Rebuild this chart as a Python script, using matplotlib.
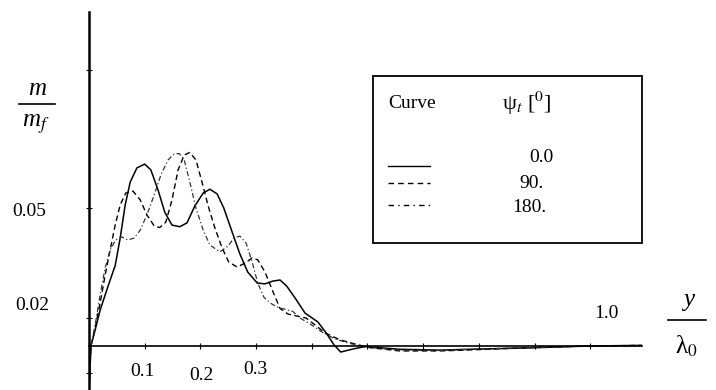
import numpy as np
import matplotlib.pyplot as plt
from matplotlib.lines import Line2D
from matplotlib.patches import Rectangle

plt.rcParams['font.family'] = ['Liberation Serif', 'DejaVu Serif']
plt.rcParams['mathtext.fontset'] = 'stix'

# curve data: y / lambda0 and m / m_f
x_solid = [0.0, 0.0036, 0.011, 0.02, 0.029, 0.038, 0.047, 0.056, 0.065, 0.074, 0.086,
           0.1, 0.111, 0.124, 0.136, 0.149, 0.163, 0.176, 0.19, 0.205, 0.217, 0.23,
           0.242, 0.257, 0.271, 0.285, 0.302, 0.316, 0.33, 0.343, 0.355, 0.37,
           0.388, 0.411, 0.426, 0.44, 0.452, 0.474, 0.496, 0.558, 0.63, 0.702,
           0.79, 0.9, 0.993]
y_solid = [-0.016, 0.0, 0.0057, 0.0129, 0.0184, 0.0238, 0.029, 0.039, 0.051, 0.0593,
           0.0644, 0.0658, 0.0637, 0.0564, 0.0484, 0.0437, 0.0431, 0.0445, 0.0506,
           0.0553, 0.0567, 0.055, 0.0499, 0.0412, 0.0332, 0.0267, 0.0227, 0.0224,
           0.0234, 0.0238, 0.0216, 0.0173, 0.0118, 0.0086, 0.0046, 0.0003, -0.0023,
           -0.0012, -0.0003, -0.0013, -0.0016, -0.0012, -0.0008, -0.0001, 0.0001]

x_dash = [0.0, 0.0036, 0.011, 0.02, 0.029, 0.038, 0.047, 0.056, 0.066, 0.079, 0.092,
          0.104, 0.117, 0.127, 0.138, 0.149, 0.16, 0.171, 0.181, 0.192, 0.203, 0.214,
          0.226, 0.239, 0.251, 0.266, 0.28, 0.293, 0.303, 0.316, 0.329, 0.343, 0.357,
          0.372, 0.39, 0.406, 0.424, 0.451, 0.478, 0.504, 0.558, 0.63, 0.702, 0.79,
          0.9, 0.993]
y_dash = [-0.016, 0.0, 0.0064, 0.0155, 0.0256, 0.0347, 0.0437, 0.051, 0.0553, 0.056,
          0.0528, 0.0474, 0.0434, 0.0428, 0.0448, 0.0528, 0.0637, 0.0691, 0.07,
          0.0673, 0.0592, 0.0506, 0.0427, 0.0354, 0.0303, 0.0285, 0.0299, 0.0318,
          0.0311, 0.0267, 0.0202, 0.0135, 0.0115, 0.0108, 0.01, 0.0075, 0.0046,
          0.0021, 0.0006, -0.0007, -0.0019, -0.0019, -0.0014, -0.0007, -0.0001, 0.0001]

x_dashdot = [0.0, 0.0036, 0.011, 0.02, 0.029, 0.038, 0.048, 0.059, 0.07, 0.081, 0.092,
             0.104, 0.117, 0.129, 0.142, 0.153, 0.162, 0.171, 0.181, 0.192, 0.205,
             0.217, 0.235, 0.25, 0.26, 0.271, 0.282, 0.293, 0.303, 0.314, 0.325,
             0.34, 0.352, 0.366, 0.379, 0.397, 0.418, 0.442, 0.469, 0.496, 0.558,
             0.63, 0.702, 0.79, 0.9, 0.993]
y_dashdot = [-0.016, 0.0, 0.0075, 0.0184, 0.0282, 0.0347, 0.0383, 0.0394, 0.0383, 0.039,
             0.0419, 0.0474, 0.0546, 0.0618, 0.0673, 0.0695, 0.0696, 0.0673, 0.0593,
             0.0499, 0.0419, 0.0365, 0.034, 0.0361, 0.039, 0.0397, 0.0372, 0.0303,
             0.0227, 0.0176, 0.0155, 0.0138, 0.0132, 0.0124, 0.01, 0.0079, 0.005,
             0.0024, 0.0008, -0.0005, -0.0016, -0.0017, -0.0012, -0.0007, -0.0001, 0.0001]

x_ticks = [0.1, 0.2, 0.3, 0.4, 0.5, 0.6, 0.7, 0.8, 0.9]
y_ticks = [-0.01, 0.01, 0.05, 0.1]
curve_labels = ['0.0', '90.', '180.']

W, H = 716, 390
fig = plt.figure(figsize=(W / 100, H / 100), dpi=100)


def fx(px):
    return px / W


def fy(py):
    return 1 - py / H


ax = fig.add_axes([fx(89), 0.0, fx(642) - fx(89), fy(11.7)])
ax.set_xlim(0, 0.993)
ax.set_ylim(-0.01605, 0.121)

ax.plot(x_solid, y_solid, color='black', lw=1.1, solid_joinstyle='round')
ax.plot(x_dash, y_dash, color='black', lw=1.0, dashes=(4, 2.5))
ax.plot(x_dashdot, y_dashdot, color='#333333', lw=0.9, dashes=(4, 2, 1, 2))

for s in ['top', 'right']:
    ax.spines[s].set_visible(False)
ax.spines['bottom'].set_position(('data', 0))
ax.spines['bottom'].set_linewidth(1.2)
ax.spines['left'].set_linewidth(1.8)
ax.set_xticks(x_ticks)
ax.set_yticks(y_ticks)
ax.tick_params(direction='inout', length=5, width=0.8, labelbottom=False, labelleft=False)
ax.patch.set_visible(False)

# tick labels as placed in the original
fs = 14
tick_text = [('0.1', 142.5, 372), ('0.2', 201.5, 376), ('0.3', 255.5, 370),
             ('0.05', 29, 211), ('0.02', 32.5, 305), ('1.0', 606, 314)]
for s, px, py in tick_text:
    fig.text(fx(px), fy(py), s, fontsize=fs, ha='center', va='center')

# y axis label m / m_f
fig.text(fx(37), fy(89), 'm', fontsize=18, style='italic', ha='center', va='center')
fig.add_artist(Line2D([fx(19), fx(55)], [fy(104), fy(104)], color='black', lw=1.2))
fig.text(fx(36), fy(124), 'm$_{f}$', fontsize=18, style='italic', ha='center', va='center')

# x axis label y / lambda0
fig.text(fx(689), fy(300), 'y', fontsize=18, style='italic', ha='center', va='center')
fig.add_artist(Line2D([fx(668), fx(706)], [fy(320), fy(320)], color='black', lw=1.2))
fig.text(fx(686), fy(346), 'λ$_0$', fontsize=18, ha='center', va='center')

# legend box
fig.add_artist(Rectangle((fx(373), fy(242.5)), fx(642) - fx(373), fy(76) - fy(242.5),
                         fill=False, edgecolor='black', lw=1.3))
fig.text(fx(388), fy(103), 'Curve', fontsize=fs, ha='left', va='center')
fig.text(fx(502), fy(103), 'ψ$_t$ [$^0$]', fontsize=16, ha='left', va='center')
sample_styles = [dict(ls='-', color='black', lw=1.0),
                 dict(dashes=(4, 3), color='black', lw=1.0),
                 dict(dashes=(4, 3, 1, 3), color='black', lw=1.0)]
sample_y = [166, 183, 205]
label_pos = [(541, 157), (531, 183), (529, 207)]
for st, sy, lab, (lx, ly) in zip(sample_styles, sample_y, curve_labels, label_pos):
    fig.add_artist(Line2D([fx(388), fx(430)], [fy(sy), fy(sy)], **st))
    fig.text(fx(lx), fy(ly), lab, fontsize=fs, ha='center', va='center')

fig.savefig('out.png', dpi=100)
